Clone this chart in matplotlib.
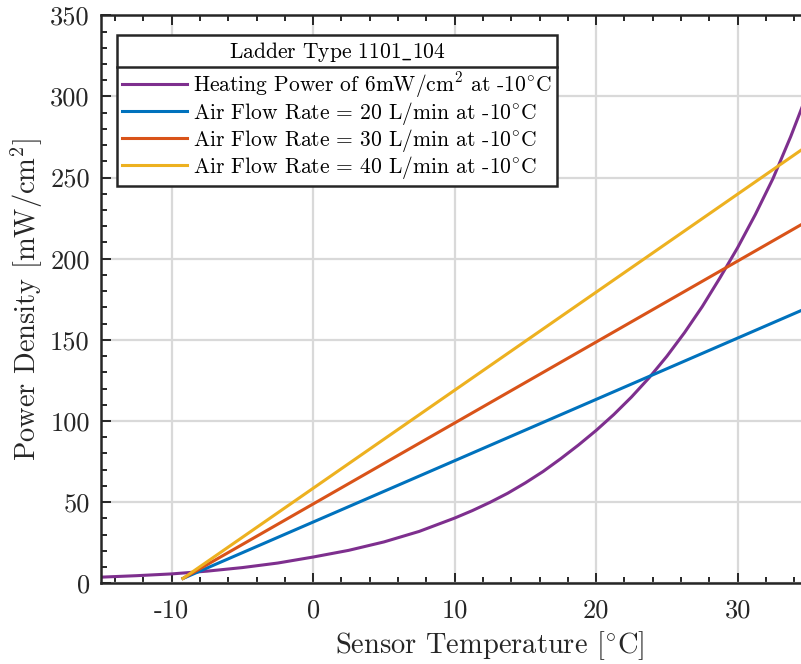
import numpy as np
import matplotlib
matplotlib.use('Agg')
import matplotlib.pyplot as plt
from matplotlib.ticker import MultipleLocator, FixedLocator, FuncFormatter
from matplotlib.lines import Line2D

plt.rcParams['font.family'] = ['cmr10', 'DejaVu Serif']
plt.rcParams['mathtext.fontset'] = 'cm'
plt.rcParams['axes.unicode_minus'] = False

# heating power curve
temp_heat = [-15, -12.5, -10, -7.5, -5, -2.5, 0, 2.5, 5, 7.5, 10, 11.25, 12.5, 13.75,
             15, 16.25, 17.5, 18.75, 20, 21.25, 22.5, 23.75, 25, 26.25, 27.5, 28.75,
             30, 31.25, 32.5, 33.75, 35]
heat_power = [3.8, 4.7, 5.8, 7.5, 9.7, 12.5, 16.2, 20.3, 25.5, 32.0, 40.2, 44.8, 49.9, 55.5,
              61.9, 68.9, 76.8, 85.2, 94.2, 104.0, 114.8, 126.7, 139.9, 154.5, 170.5, 188.2,
              206.8, 227.2, 249.4, 275.2, 303.4]

# air flow lines (start and end points)
temp_air = [-9.2, 35]
flow20 = [3, 170]
flow30 = [3, 223.5]
flow40 = [3, 270]

labels = ['Heating Power of 6mW/cm$^{2}$ at -10$^{\\circ}$C',
          'Air Flow Rate = 20 L/min at -10$^{\\circ}$C',
          'Air Flow Rate = 30 L/min at -10$^{\\circ}$C',
          'Air Flow Rate = 40 L/min at -10$^{\\circ}$C']
colors = ['#7E2F8E', '#0072BD', '#D95319', '#EDB120']
xticks = [-10, 0, 10, 20, 30]

fig = plt.figure(figsize=(8.01, 6.64), dpi=100)
ax = fig.add_axes([0.126, 0.1215, 0.9715, 0.8555])

ax.plot(temp_heat, heat_power, color=colors[0], lw=2.2, label=labels[0])
ax.plot(temp_air, flow20, color=colors[1], lw=2.2, label=labels[1])
ax.plot(temp_air, flow30, color=colors[2], lw=2.2, label=labels[2])
ax.plot(temp_air, flow40, color=colors[3], lw=2.2, label=labels[3])

ax.set_xlim(-15, 40)
ax.set_ylim(0, 350)
ax.xaxis.set_major_locator(FixedLocator(xticks))
ax.xaxis.set_minor_locator(MultipleLocator(2))
ax.yaxis.set_major_locator(MultipleLocator(50))
ax.yaxis.set_minor_locator(MultipleLocator(10))
ax.xaxis.set_major_formatter(FuncFormatter(lambda v, p: '%g' % v))
ax.yaxis.set_major_formatter(FuncFormatter(lambda v, p: '%g' % v))
ax.tick_params(which='both', direction='in', top=True, right=True, width=1.4, labelsize=19, colors='#262626')
ax.tick_params(which='major', length=7)
ax.tick_params(which='minor', length=4)
ax.tick_params(axis='x', which='major', pad=11)
ax.tick_params(axis='y', which='major', pad=8)
for s in ax.spines.values():
    s.set_linewidth(1.8)
    s.set_color('#262626')
ax.grid(True, which='major', color='#d9d9d9', lw=1.6)
ax.set_axisbelow(True)

ax.set_xlabel('Sensor Temperature [$^{\\circ}$C]', fontsize=20.5, color='#262626', labelpad=5)
ax.set_ylabel('Power Density $[\\mathrm{mW/cm^{2}}]$', fontsize=20.5, color='#262626', labelpad=4)

leg = ax.legend(loc='upper left', bbox_to_anchor=(117 / 801, 1 - 35 / 664),
                bbox_transform=fig.transFigure, borderaxespad=0,
                title='Ladder Type 1101$\\_$104', title_fontsize=15.5, fontsize=15.5,
                fancybox=False, framealpha=1, edgecolor='#262626',
                handlelength=3.0, handletextpad=0.3, labelspacing=0.0,
                borderpad=0.25)
leg.get_frame().set_linewidth(1.8)
leg._legend_box.sep = 4

# separator line below the legend title
fig.canvas.draw()
r = fig.canvas.get_renderer()
fb = leg.get_frame().get_window_extent(r)
tb = leg.get_title().get_window_extent(r)
inv = fig.transFigure.inverted()
y_sep = tb.y0 - 3
p0 = inv.transform((fb.x0, y_sep))
p1 = inv.transform((fb.x1, y_sep))
fig.add_artist(Line2D([p0[0], p1[0]], [p0[1], p1[1]], transform=fig.transFigure,
                      color='#262626', lw=1.8))

fig.savefig('out.png', dpi=100)
